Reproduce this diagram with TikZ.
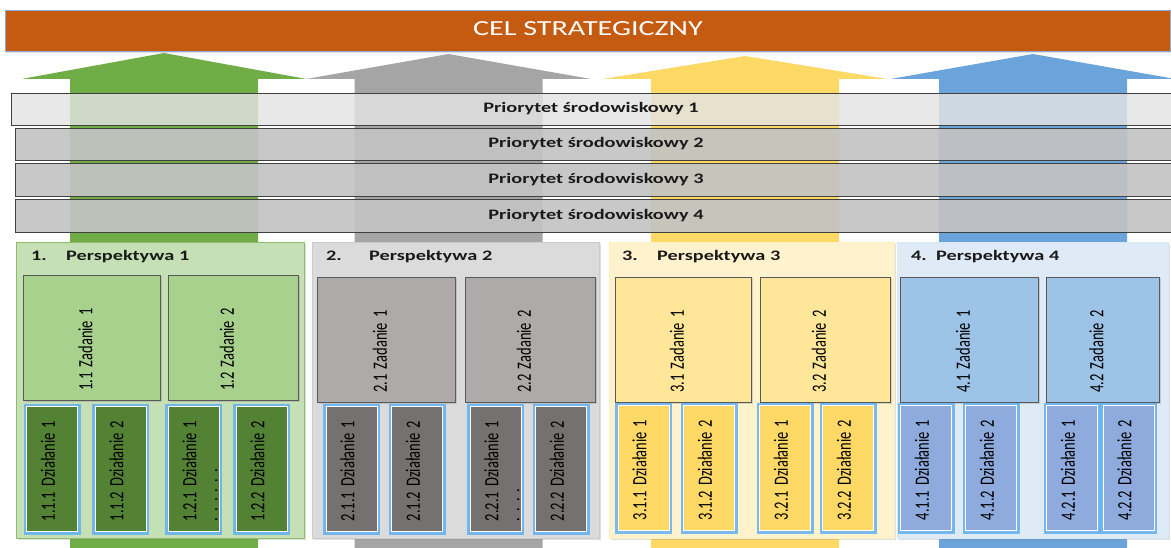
\documentclass[tikz,border=0pt]{standalone}
\usepackage{fontspec}
\setmainfont{Carlito}
\newfontfamily\widefont[FakeStretch=1.4]{Carlito}
\newfontfamily\narrowfont[FakeStretch=0.714,WordSpace=1.5]{Carlito}
\usetikzlibrary{shadows}
\definecolor{celorange}{HTML}{C55A11}
\definecolor{goalline}{HTML}{8EA9DB}
\definecolor{arrgreen}{HTML}{70AD47}
\definecolor{arrgray}{HTML}{A5A5A5}
\definecolor{arryellow}{HTML}{FFD966}
\definecolor{arrblue}{HTML}{6AA4DA}
\definecolor{barlight}{HTML}{E3E3E3}
\definecolor{bardark}{HTML}{C3C3C3}
\definecolor{barline}{HTML}{404040}
\definecolor{pgreen}{HTML}{C5E0B4}
\definecolor{pgray}{HTML}{DBDBDB}
\definecolor{pyellow}{HTML}{FFF2CC}
\definecolor{pblue}{HTML}{DEEBF7}
\definecolor{zgreen}{HTML}{A9D18E}
\definecolor{zgray}{HTML}{AEAAAA}
\definecolor{zyellow}{HTML}{FFE699}
\definecolor{zblue}{HTML}{9DC3E6}
\definecolor{dgreen}{HTML}{548235}
\definecolor{dgray}{HTML}{767171}
\definecolor{dyellow}{HTML}{FFD966}
\definecolor{dblue}{HTML}{8FAADC}
\definecolor{glow}{HTML}{62B0F2}
\definecolor{taskline}{HTML}{595959}
\definecolor{txtdark}{HTML}{1A1A1A}

\begin{document}
\begin{tikzpicture}[x=1pt,y=-1pt,
    goalbar/.style={draw=goalline,line width=0.6pt,fill=celorange,inner sep=0pt,drop shadow={opacity=0.25,shadow xshift=1pt,shadow yshift=-2pt}},
    prio/.style={draw=barline,line width=0.8pt,inner sep=0pt,text opacity=1,text=txtdark,font=\widefont\bfseries\fontsize{14.5}{17}\selectfont},
    persp/.style={line width=0.8pt,minimum height=296pt,inner sep=0pt,drop shadow={opacity=0.25,shadow xshift=2pt,shadow yshift=-2pt}},
    task/.style={draw=taskline,line width=0.7pt,minimum height=125pt,inner sep=0pt,drop shadow={opacity=0.3,shadow xshift=1.5pt,shadow yshift=-1.5pt}},
    act/.style={draw=white,line width=1pt,minimum width=51pt,minimum height=125pt,inner sep=0pt,preaction={draw=glow,line width=6pt,draw opacity=0.85}},
    htext/.style={inner sep=0pt,text=txtdark,font=\widefont\bfseries\fontsize{14.5}{17}\selectfont},
    vtext/.style={rotate=90,inner sep=0pt,align=left,text=black,font=\narrowfont\fontsize{20.3}{21}\selectfont}]
        \clip (0,0) rectangle (1171,548);

        % arrows
        \fill[arrgreen] (70,548) -- (70,79) -- (21.5,79) -- (164,53) -- (306.5,79) -- (258,79) -- (258,548) -- cycle;
        \fill[arrgray] (354.5,548) -- (354.5,79) -- (306,79) -- (448.5,54) -- (591,79) -- (542.5,79) -- (542.5,548) -- cycle;
        \fill[arryellow] (651,548) -- (651,79) -- (602.5,79) -- (745,56) -- (887.5,79) -- (839,79) -- (839,548) -- cycle;
        \fill[arrblue] (939,548) -- (939,79) -- (890.5,79) -- (1033,54) -- (1175.5,79) -- (1127,79) -- (1127,548) -- cycle;

        % goal
        \node[goalbar,minimum width=1165pt,minimum height=41pt] (goal) at (587.5,30.5) {};
        \node[inner sep=0pt,text=white,font=\widefont\fontsize{21.5}{24}\selectfont] (goaltext) at (588,28.5) {CEL STRATEGICZNY};

        % priorities
        \node[prio,fill=barlight,fill opacity=0.83,minimum width=1160pt,minimum height=32pt] (prio1) at (591,109) {Priorytet środowiskowy 1};
        \node[prio,fill=bardark,fill opacity=0.92,minimum width=1162pt,minimum height=32pt] (prio2) at (596,144) {Priorytet środowiskowy 2};
        \node[prio,fill=bardark,fill opacity=0.92,minimum width=1162pt,minimum height=33pt] (prio3) at (596,179.5) {Priorytet środowiskowy 3};
        \node[prio,fill=bardark,fill opacity=0.92,minimum width=1162pt,minimum height=33pt] (prio4) at (596,215.5) {Priorytet środowiskowy 4};

        % perspectives
        \node[persp,fill=pgreen,draw=arrgreen!80!white,minimum width=288pt] (persp1) at (160,390) {};
        \node[persp,fill=pgray,draw=gray!40,minimum width=287pt] (persp2) at (455.5,390) {};
        \node[persp,fill=pyellow,draw=arryellow!40,minimum width=285pt] (persp3) at (751.5,390) {};
        \node[persp,fill=pblue,draw=arrblue!25,minimum width=271pt] (persp4) at (1032.5,390) {};

        \node[htext,anchor=base west] (num1) at (31,261) {1.};
        \node[htext,anchor=base west] (ptitle1) at (66,261) {Perspektywa 1};
        \node[htext,anchor=base west] (num2) at (326,261) {2.};
        \node[htext,anchor=base west] (ptitle2) at (369,261) {Perspektywa 2};
        \node[htext,anchor=base west] (num3) at (622,261) {3.};
        \node[htext,anchor=base west] (ptitle3) at (657,261) {Perspektywa 3};
        \node[htext,anchor=base west] (num4) at (911,261) {4.};
        \node[htext,anchor=base west] (ptitle4) at (936,261) {Perspektywa 4};

        % tasks
        \node[task,fill=zgreen,minimum width=137pt] (task11) at (91.5,337.5) {};
        \node[task,fill=zgreen,minimum width=130pt] (task12) at (233,337.5) {};
        \node[task,fill=zgray,minimum width=138pt] (task21) at (386,339.5) {};
        \node[task,fill=zgray,minimum width=130pt] (task22) at (530,339.5) {};
        \node[task,fill=zyellow,minimum width=136pt] (task31) at (683,339.5) {};
        \node[task,fill=zyellow,minimum width=130pt] (task32) at (825,339.5) {};
        \node[task,fill=zblue,minimum width=138pt] (task41) at (969,339.5) {};
        \node[task,fill=zblue,minimum width=113pt] (task42) at (1102.5,339.5) {};

        \node[vtext] (tasktext11) at ([xshift=-6pt,yshift=-12pt]task11.center) {1.1 Zadanie 1};
        \node[vtext] (tasktext12) at ([xshift=-6pt,yshift=-12pt]task12.center) {1.2 Zadanie 2};
        \node[vtext] (tasktext21) at ([xshift=-6pt,yshift=-12pt]task21.center) {2.1 Zadanie 1};
        \node[vtext] (tasktext22) at ([xshift=-6pt,yshift=-12pt]task22.center) {2.2 Zadanie 2};
        \node[vtext] (tasktext31) at ([xshift=-6pt,yshift=-12pt]task31.center) {3.1 Zadanie 1};
        \node[vtext] (tasktext32) at ([xshift=-6pt,yshift=-12pt]task32.center) {3.2 Zadanie 2};
        \node[vtext] (tasktext41) at ([xshift=-6pt,yshift=-12pt]task41.center) {4.1 Zadanie 1};
        \node[vtext] (tasktext42) at ([xshift=-6pt,yshift=-12pt]task42.center) {4.2 Zadanie 2};

        % actions
        \node[act,fill=dgreen] (act111) at (52,469) {};
        \node[act,fill=dgreen] (act112) at (120.5,469) {};
        \node[act,fill=dgreen] (act121) at (193.5,469) {};
        \node[act,fill=dgreen] (act122) at (261.5,469) {};
        \node[act,fill=dgray] (act211) at (351.5,469) {};
        \node[act,fill=dgray] (act212) at (417,469) {};
        \node[act,fill=dgray] (act221) at (495.5,469) {};
        \node[act,fill=dgray] (act222) at (561,469) {};
        \node[act,fill=dyellow] (act311) at (643.5,468) {};
        \node[act,fill=dyellow] (act312) at (709,468) {};
        \node[act,fill=dyellow] (act321) at (785,468) {};
        \node[act,fill=dyellow] (act322) at (848,468) {};
        \node[act,fill=dblue] (act411) at (926,468) {};
        \node[act,fill=dblue] (act412) at (991,468) {};
        \node[act,fill=dblue] (act421) at (1072,468) {};
        \node[act,fill=dblue] (act422) at (1128.5,468) {};

        \node[vtext] (acttext111) at ([xshift=-4pt,yshift=-2pt]act111.center) {1.1.1 Działanie 1};
        \node[vtext] (acttext112) at ([xshift=-4pt,yshift=-2pt]act112.center) {1.1.2 Działanie 2};
        \node[vtext] (acttext121) at ([xshift=6.5pt,yshift=-2pt]act121.center) {1.2.1 Działanie 1\\. . . . . .};
        \node[vtext] (acttext122) at ([xshift=-4pt,yshift=-2pt]act122.center) {1.2.2 Działanie 2};
        \node[vtext] (acttext211) at ([xshift=-4pt,yshift=-2pt]act211.center) {2.1.1 Działanie 1};
        \node[vtext] (acttext212) at ([xshift=-4pt,yshift=-2pt]act212.center) {2.1.2 Działanie 2};
        \node[vtext] (acttext221) at ([xshift=6.5pt,yshift=-2pt]act221.center) {2.2.1 Działanie 1\\. . . .};
        \node[vtext] (acttext222) at ([xshift=-4pt,yshift=-2pt]act222.center) {2.2.2 Działanie 2};
        \node[vtext] (acttext311) at ([xshift=-4pt,yshift=-2pt]act311.center) {3.1.1 Działanie 1};
        \node[vtext] (acttext312) at ([xshift=-4pt,yshift=-2pt]act312.center) {3.1.2 Działanie 2};
        \node[vtext] (acttext321) at ([xshift=-4pt,yshift=-2pt]act321.center) {3.2.1 Działanie 1};
        \node[vtext] (acttext322) at ([xshift=-4pt,yshift=-2pt]act322.center) {3.2.2 Działanie 2};
        \node[vtext] (acttext411) at ([xshift=-4pt,yshift=-2pt]act411.center) {4.1.1 Działanie 1};
        \node[vtext] (acttext412) at ([xshift=-4pt,yshift=-2pt]act412.center) {4.1.2 Działanie 2};
        \node[vtext] (acttext421) at ([xshift=-4pt,yshift=-2pt]act421.center) {4.2.1 Działanie 1};
        \node[vtext] (acttext422) at ([xshift=-4pt,yshift=-2pt]act422.center) {4.2.2 Działanie 2};
    \end{tikzpicture}
\end{document}
